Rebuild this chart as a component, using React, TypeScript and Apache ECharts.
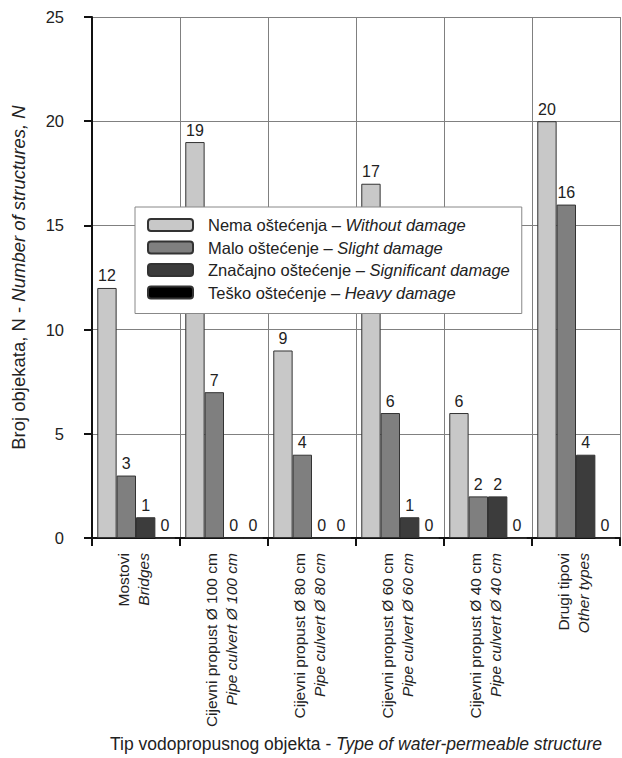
import React, { useEffect, useRef } from "react";
import * as echarts from "echarts";

const categoriesSr = [
  "Mostovi",
  "Cijevni propust Ø 100 cm",
  "Cijevni propust Ø 80 cm",
  "Cijevni propust Ø 60 cm",
  "Cijevni propust Ø 40 cm",
  "Drugi tipovi",
];
const categoriesEn = [
  "Bridges",
  "Pipe culvert Ø 100 cm",
  "Pipe culvert Ø 80 cm",
  "Pipe culvert Ø 60 cm",
  "Pipe culvert Ø 40 cm",
  "Other types",
];

const withoutDamage = [12, 19, 9, 17, 6, 20];
const slightDamage = [3, 7, 4, 6, 2, 16];
const significantDamage = [1, 0, 0, 1, 2, 4];
const heavyDamage = [0, 0, 0, 0, 0, 0];

const seriesNamesSr = ["Nema oštećenja", "Malo oštećenje", "Značajno oštećenje", "Teško oštećenje"];
const seriesNamesEn = ["Without damage", "Slight damage", "Significant damage", "Heavy damage"];
const seriesColors = ["#c8c8c8", "#7f7f7f", "#3c3c3c", "#000000"];

const yTicks = { min: 0, max: 25, interval: 5 };

const FONT = "'Liberation Sans', Arial, sans-serif";

export default function App() {
  const ref = useRef<HTMLDivElement>(null);
  useEffect(() => {
    if (!ref.current) return;
    const chart = echarts.init(ref.current, undefined, { renderer: "svg" });
    const dataSets = [withoutDamage, slightDamage, significantDamage, heavyDamage];
    const series = dataSets.map((d, i) => ({
      name: `${seriesNamesSr[i]} – ${seriesNamesEn[i]}`,
      type: "bar",
      data: d,
      barGap: "0%",
      barCategoryGap: "12%",
      itemStyle: { color: seriesColors[i], borderColor: "#333", borderWidth: 1 },
      label: {
        show: true,
        position: "top",
        distance: 4,
        fontFamily: FONT,
        fontSize: 16,
        color: "#222",
      },
    }));
    chart.setOption({
      animation: false,
      backgroundColor: "#ffffff",
      textStyle: { fontFamily: FONT },
      grid: { left: 92, right: 2, top: 17, bottom: 213, containLabel: false },
      legend: {
        orient: "vertical",
        left: 135,
        top: 207,
        padding: [9, 12, 12, 12],
        itemWidth: 45,
        itemHeight: 12,
        itemGap: 4.5,
        backgroundColor: "#ffffff",
        borderColor: "#888",
        borderWidth: 1,
        borderRadius: 0,
        data: series.map((s) => s.name),
        formatter: (name: string) => {
          const parts = name.split(" – ");
          return `${parts[0]} – {i|${parts[1]}}`;
        },
        textStyle: {
          fontFamily: FONT,
          fontSize: 16.5,
          color: "#222",
          lineHeight: 18,
          padding: [0, 0, 0, 10],
          rich: {
            i: { fontStyle: "italic", fontFamily: FONT, fontSize: 16.5, color: "#222" },
          },
        },
      },
      xAxis: {
        type: "category",
        data: categoriesSr,
        name: "Tip vodopropusnog objekta - {i|Type of water-permeable structure}",
        nameLocation: "middle",
        nameGap: 188,
        nameTextStyle: {
          fontFamily: FONT,
          fontSize: 17.5,
          color: "#222",
          rich: { i: { fontStyle: "italic", fontFamily: FONT, fontSize: 17.5, color: "#222" } },
        },
        axisLine: { show: true, lineStyle: { color: "#111", width: 2 } },
        axisTick: { show: true, length: 8, lineStyle: { color: "#111", width: 2 } },
        splitLine: { show: true, lineStyle: { color: "#808080", width: 1 } },
        axisLabel: {
          interval: 0,
          rotate: 90,
          margin: 15,
          fontFamily: FONT,
          fontSize: 15.5,
          color: "#222",
          formatter: (v: string, i: number) => `{a|${v}}\n{b|${categoriesEn[i]}}`,
          rich: {
            a: { fontFamily: FONT, fontSize: 15.5, color: "#222", lineHeight: 14 },
            b: { fontFamily: FONT, fontSize: 15.5, color: "#222", fontStyle: "italic", lineHeight: 26 },
          },
        },
      },
      yAxis: {
        type: "value",
        min: yTicks.min,
        max: yTicks.max,
        interval: yTicks.interval,
        name: "Broj objekata, N - {i|Number of structures, N}",
        nameLocation: "middle",
        nameGap: 64,
        nameTextStyle: {
          fontFamily: FONT,
          fontSize: 18.5,
          color: "#222",
          rich: { i: { fontStyle: "italic", fontFamily: FONT, fontSize: 18.5, color: "#222" } },
        },
        axisLine: { show: true, lineStyle: { color: "#111", width: 2 } },
        axisTick: { show: true, length: 8, lineStyle: { color: "#111", width: 2 } },
        splitLine: { show: true, lineStyle: { color: "#808080", width: 1 } },
        axisLabel: { margin: 28, fontFamily: FONT, fontSize: 16.5, color: "#222" },
      },
      series,
    });
    return () => chart.dispose();
  }, []);
  return (
    <div
      ref={ref}
      style={{ position: "absolute", left: 0, top: 0, width: 622, height: 758, background: "#fff" }}
    />
  );
}
